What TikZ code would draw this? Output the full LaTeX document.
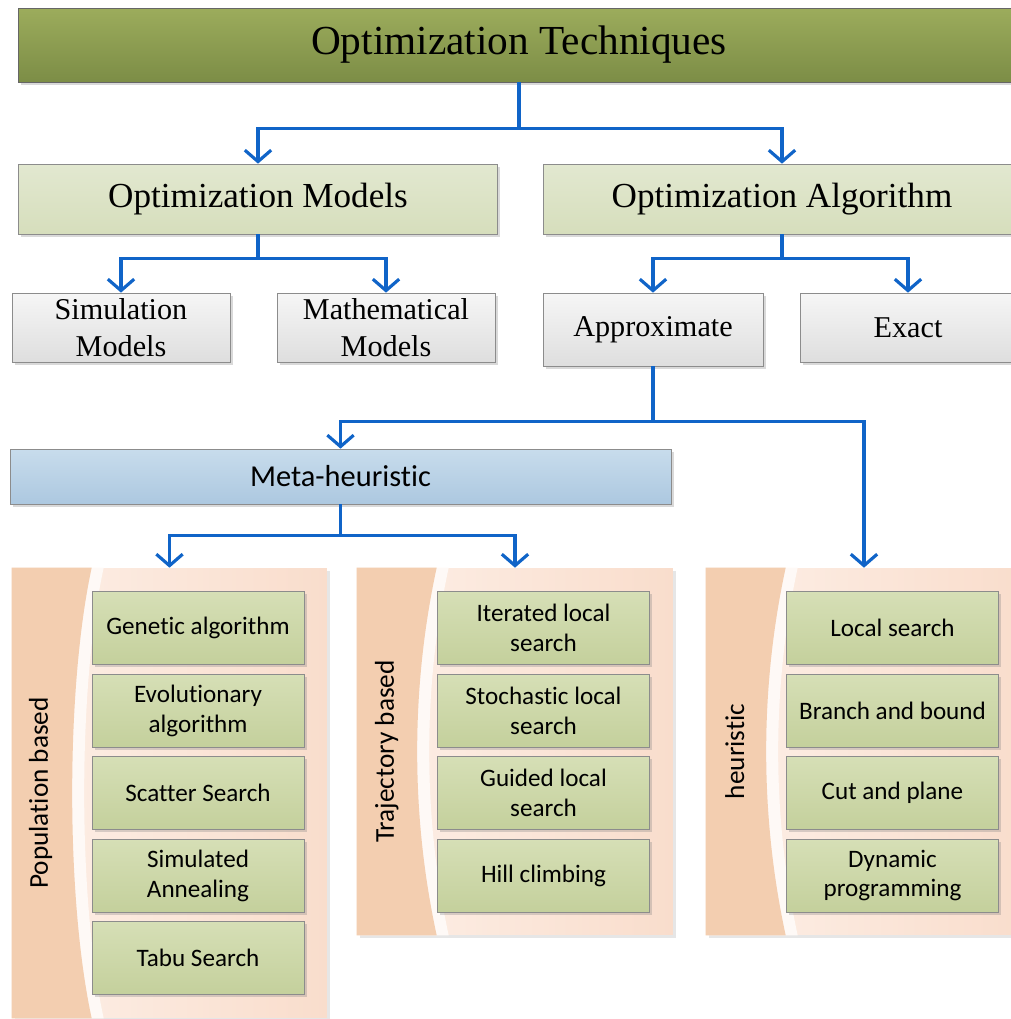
\documentclass[tikz,border=0pt]{standalone}
\usepackage{fontspec}
\setmainfont{Liberation Serif}
\newfontfamily\calibri[Ligatures=NoCommon]{Carlito}
\usetikzlibrary{arrows.meta, shadows, calc}

\definecolor{linkblue}{RGB}{16,100,200}
\definecolor{olivetop}{RGB}{156,172,92}
\definecolor{olivebot}{RGB}{124,141,70}
\definecolor{sagetop}{RGB}{226,232,208}
\definecolor{sagebot}{RGB}{214,222,188}
\definecolor{greytop}{RGB}{246,246,246}
\definecolor{greybot}{RGB}{222,222,222}
\definecolor{bluetop}{RGB}{200,220,236}
\definecolor{bluebot}{RGB}{172,200,224}
\definecolor{leaftop}{RGB}{214,223,182}
\definecolor{leafbot}{RGB}{196,208,156}
\definecolor{peachdark}{RGB}{243,206,176}
\definecolor{peachpale}{RGB}{253,240,232}
\definecolor{peachright}{RGB}{249,221,204}

\tikzset{
  link/.style = {line width=1.8pt, draw=linkblue, -{Straight Barb[length=6.5pt,width=15pt]}},
  box/.style = {draw=black!45, inner sep=0pt, align=center,
    drop shadow={shadow xshift=1.5pt, shadow yshift=-1.5pt, opacity=0.3}},
  headbox/.style = {box, top color=olivetop, bottom color=olivebot, draw=black!60,
    minimum height=1.48cm, font=\fontsize{23.5}{28}\selectfont},
  modelbox/.style = {box, top color=sagetop, bottom color=sagebot,
    minimum height=1.4cm, font=\fontsize{20}{25}\selectfont},
  greybox/.style = {box, top color=greytop, bottom color=greybot,
    minimum width=4.36cm, minimum height=1.38cm, font=\fontsize{17.2}{21}\selectfont},
  metabox/.style = {box, top color=bluetop, bottom color=bluebot,
    minimum width=13.22cm, minimum height=1.1cm, font=\calibri\fontsize{17.3}{20}\selectfont},
  panel/.style = {inner sep=0pt, left color=peachpale, right color=peachright,
    minimum width=6.32cm,
    drop shadow={shadow xshift=1.5pt, shadow yshift=-1.5pt, opacity=0.2}},
  leaf/.style = {box, top color=leaftop, bottom color=leafbot,
    minimum width=4.24cm, minimum height=1.46cm, font=\calibri\fontsize{14.3}{17}\selectfont},
  tag/.style = {rotate=90, font=\calibri\fontsize{15.5}{18}\selectfont}
}

\newcommand{\peachband}[1]{%
  \fill[white!60!peachpale] ($(#1.north west)+(0,0)$) -- ($(#1.north west)+(92,0)$)
    .. controls ($(#1.north west)+(66,120)$) and ($(#1.south west)+(66,-120)$) .. ($(#1.south west)+(92,0)$)
    -- ($(#1.south west)$) -- cycle;
  \fill[peachdark] ($(#1.north west)$) -- ($(#1.north west)+(80,0)$)
    .. controls ($(#1.north west)+(54,120)$) and ($(#1.south west)+(54,-120)$) .. ($(#1.south west)+(80,0)$)
    -- ($(#1.south west)$) -- cycle;
}

\begin{document}
\begin{tikzpicture}[x=0.02cm, y=-0.02cm]
\clip (0,0) rectangle (1011,1019);

% top levels
\node[headbox, minimum width=20.04cm] (tech) at (519,45) {Optimization Techniques};
\node[modelbox, minimum width=9.58cm] (models) at (258,199) {Optimization Models};
\node[modelbox, minimum width=9.56cm] (algo) at (782,199) {Optimization Algorithm};

\node[greybox] (simul) at (121,327.5) {Simulation\\Models};
\node[greybox] (mathm) at (386,327.5) {Mathematical\\Models};
\node[greybox, minimum width=4.4cm, minimum height=1.46cm] (approx) at (653,329.5) {Approximate};
\node[greybox, minimum width=4.32cm] (exact) at (908,327.5) {Exact};

\node[metabox] (meta) at (340.5,476.5) {Meta-heuristic};

% panels
\node[panel, minimum width=6.3cm, minimum height=9cm] (pop) at (169.5,793) {};
\peachband{pop}
\node[tag] at ($(pop.west)+(29,0)$) {Population based};

\node[panel, minimum height=7.34cm] (traj) at (515,751.5) {};
\peachband{traj}
\node[tag] at ($(traj.west)+(30,0)$) {Trajectory based};

\node[panel, minimum height=7.34cm] (heur) at (864,751.5) {};
\peachband{heur}
\node[tag] at ($(heur.west)+(29,0)$) {heuristic};

% population based
\node[leaf] (ga) at (198,628) {Genetic algorithm};
\node[leaf] (ea) at (198,710.5) {Evolutionary\\algorithm};
\node[leaf] (ss) at (198,793) {Scatter Search};
\node[leaf] (sa) at (198,875.5) {Simulated\\Annealing};
\node[leaf] (ts) at (198,958) {Tabu Search};

% trajectory based
\node[leaf] (ils) at (543.5,628) {Iterated local\\search};
\node[leaf] (sls) at (543.5,710.5) {Stochastic local\\search};
\node[leaf] (gls) at (543.5,793) {Guided local\\search};
\node[leaf] (hc) at (543.5,875.5) {Hill climbing};

% heuristic
\node[leaf] (ls) at (892.5,628) {Local search};
\node[leaf] (bb) at (892.5,710.5) {Branch and bound};
\node[leaf] (cp) at (892.5,793) {Cut and plane};
\node[leaf] (dp) at (892.5,875.5) {Dynamic\\programming};

% connectors
\draw[link] (tech.south) -- ++(0,46) -| (models.north);
\draw[link] (tech.south) -- ++(0,46) -| (algo.north);
\draw[link] (models.south) -- ++(0,24) -| (simul.north);
\draw[link] (models.south) -- ++(0,24) -| (mathm.north);
\draw[link] (algo.south) -- ++(0,24) -| (approx.north);
\draw[link] (algo.south) -- ++(0,24) -| (exact.north);
\draw[link] (approx.south) -- ++(0,55) -| (meta.north);
\draw[link] (approx.south) -- ++(0,55) -| (heur.north);
\draw[link] (meta.south) -- ++(0,31) -| (pop.north);
\draw[link] (meta.south) -- ++(0,31) -| (traj.north);

\end{tikzpicture}
\end{document}
